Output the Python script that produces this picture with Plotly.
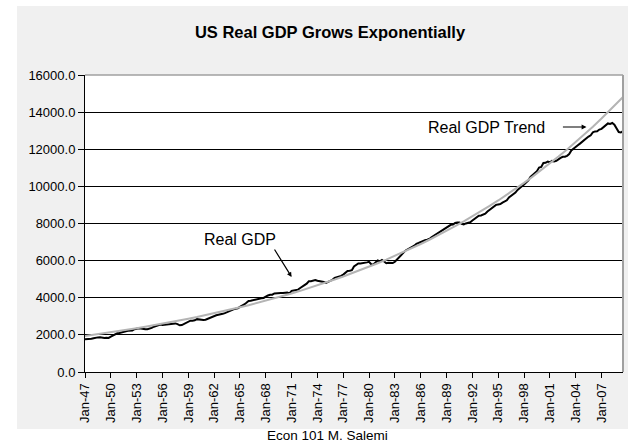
import plotly.graph_objects as go

# ---- Data (billions of chained dollars, quarterly, 1947Q1 - 2009Q3) ----
start_year = 1947
gdp = [
    1770.7, 1768.0, 1766.5, 1793.3,
    1821.8, 1855.3, 1865.3, 1868.2,
    1842.2, 1833.4, 1850.3, 1834.6,
    1905.2, 1964.5, 2040.2, 2083.0,
    2105.3, 2144.1, 2190.4, 2197.6,
    2217.9, 2220.6, 2236.5, 2304.2,
    2338.0, 2360.1, 2343.4, 2312.9,
    2304.6, 2306.6, 2332.3, 2374.1,
    2440.9, 2489.5, 2534.5, 2561.2,
    2537.4, 2552.1, 2546.6, 2578.0,
    2601.9, 2595.4, 2617.1, 2576.6,
    2514.9, 2526.6, 2594.2, 2654.9,
    2702.3, 2765.6, 2765.8, 2781.7,
    2846.9, 2828.5, 2837.6, 2796.2,
    2816.3, 2866.5, 2914.8, 2977.7,
    3025.9, 3055.5, 3081.3, 3097.0,
    3133.5, 3172.4, 3233.1, 3263.6,
    3327.3, 3373.2, 3411.2, 3426.1,
    3511.1, 3564.0, 3639.9, 3727.2,
    3821.0, 3834.4, 3869.3, 3899.1,
    3920.3, 3931.6, 3967.9, 3990.3,
    4064.2, 4125.7, 4159.1, 4166.2,
    4234.9, 4249.1, 4285.3, 4260.6,
    4252.3, 4256.6, 4283.4, 4238.3,
    4373.3, 4395.6, 4424.8, 4438.1,
    4525.0, 4624.5, 4679.9, 4761.1,
    4886.4, 4888.4, 4915.8, 4958.2,
    4917.9, 4906.0, 4868.6, 4850.1,
    4801.0, 4844.4, 4923.8, 4968.2,
    5073.3, 5102.9, 5135.0, 5177.9,
    5248.4, 5347.1, 5446.1, 5453.7,
    5484.7, 5689.6, 5755.1, 5844.1,
    5850.6, 5856.4, 5880.8, 5905.3,
    5933.3, 5806.2, 5791.1, 5875.6,
    6009.8, 5961.2, 6030.9, 5956.0,
    5862.4, 5887.8, 5864.9, 5868.3,
    5939.5, 6075.0, 6178.5, 6308.8,
    6428.7, 6549.4, 6626.2, 6680.3,
    6743.3, 6803.6, 6903.1, 6948.5,
    7012.9, 7036.6, 7096.3, 7123.0,
    7168.3, 7262.2, 7333.7, 7445.4,
    7496.0, 7593.3, 7637.2, 7741.1,
    7813.0, 7872.1, 7928.6, 7939.6,
    8027.7, 8059.6, 8059.5, 7988.9,
    7950.2, 8003.8, 8037.5, 8069.0,
    8157.6, 8244.3, 8329.4, 8417.0,
    8432.5, 8486.4, 8531.1, 8643.8,
    8727.9, 8847.3, 8904.2, 9003.2,
    9025.3, 9044.7, 9120.7, 9184.3,
    9247.2, 9407.1, 9488.9, 9592.5,
    9666.2, 9809.6, 9932.7, 10008.9,
    10103.4, 10194.3, 10328.8, 10507.6,
    10601.2, 10684.0, 10819.9, 11014.3,
    11043.0, 11258.5, 11267.9, 11334.5,
    11297.2, 11371.3, 11340.1, 11380.1,
    11477.9, 11538.8, 11596.4, 11598.8,
    11645.8, 11738.7, 11935.5, 12042.8,
    12127.6, 12213.8, 12303.5, 12410.3,
    12534.1, 12587.5, 12683.2, 12748.7,
    12915.9, 12962.5, 12965.9, 13060.7,
    13099.9, 13204.0, 13321.1, 13391.2,
    13366.9, 13415.3, 13324.6, 13141.9,
    12925.4, 12901.5, 12973.0,
]

# Exponential trend, read at each January (plus the last quarter)
trend_dates = [f"{y}-01-01" for y in range(1947, 2010)] + ["2009-07-01"]
trend = [
    1940, 2004, 2070, 2139, 2209, 2282, 2358, 2436, 2516, 2599,
    2685, 2774, 2866, 2960, 3058, 3159, 3264, 3372, 3483, 3598,
    3717, 3840, 3967, 4098, 4233, 4373, 4518, 4667, 4822, 4981,
    5146, 5316, 5492, 5673, 5861, 6055, 6255, 6462, 6675, 6896,
    7124, 7359, 7603, 7854, 8114, 8382, 8659, 8946, 9241, 9547,
    9863, 10189, 10526, 10874, 11233, 11605, 11988, 12385, 12794, 13217,
    13654, 14106, 14572, 14811,
]

tick_years = list(range(1947, 2008, 3))
tick_labels = [f"Jan-{y % 100:02d}" for y in tick_years]
tick_vals = [f"{y}-01-01" for y in tick_years]

gdp_dates = [f"{start_year + i // 4}-{(i % 4) * 3 + 1:02d}-01" for i in range(len(gdp))]

FONT = "Liberation Sans, Arial, sans-serif"
CHART_BG = "#f0f0f0"

fig = go.Figure()
fig.add_trace(go.Scatter(x=gdp_dates, y=gdp, mode="lines", name="Real GDP",
                         line=dict(color="#000000", width=2)))
fig.add_trace(go.Scatter(x=trend_dates, y=trend, mode="lines", name="Trend",
                         line=dict(color="#b4b4b4", width=2)))

# Layout geometry (pixels)
W, H = 628, 443
L, R, T, B = 85, 5, 75, 71
pw, ph = W - L - R, H - T - B


def px_x(px):
    return (px - L) / pw


def px_y(py):
    return (H - B - py) / ph


NOLINE = dict(width=0)
shapes = [
    # white strips outside the light-grey chart area
    dict(type="rect", xref="paper", yref="paper", layer="above",
         x0=px_x(-5), x1=px_x(17), y0=px_y(450), y1=px_y(-5),
         fillcolor="#ffffff", line=NOLINE),
    dict(type="rect", xref="paper", yref="paper", layer="above",
         x0=px_x(-5), x1=px_x(635), y0=px_y(6), y1=px_y(-5),
         fillcolor="#ffffff", line=NOLINE),
    dict(type="rect", xref="paper", yref="paper", layer="above",
         x0=px_x(-5), x1=px_x(635), y0=px_y(450), y1=px_y(429),
         fillcolor="#ffffff", line=NOLINE),
    # plot-area border (top and right in grey)
    dict(type="line", xref="paper", yref="paper", layer="above",
         x0=0, x1=1, y0=1, y1=1, line=dict(color="#a0a0a0", width=1.5)),
    dict(type="line", xref="paper", yref="paper", layer="above",
         x0=1, x1=1, y0=0, y1=1, line=dict(color="#a0a0a0", width=2)),
]

annotations = [
    dict(text="Real GDP Trend", x="2000-08-15", y=13150, xref="x", yref="y",
         xanchor="right", yanchor="middle", showarrow=False,
         font=dict(family=FONT, size=16, color="#000")),
    dict(text="", x="2005-04-01", y=13200, xref="x", yref="y",
         showarrow=True, ax=-25, ay=0, arrowhead=2, arrowsize=0.8,
         arrowwidth=1.2, arrowcolor="#000"),
    dict(text="Real GDP", x="1960-07-31", y=7112, xref="x", yref="y",
         xanchor="left", yanchor="middle", showarrow=False,
         font=dict(family=FONT, size=16, color="#000")),
    dict(text="", x="1971-01-01", y=5118, xref="x", yref="y",
         showarrow=True, ax=-18, ay=-29, arrowhead=2, arrowsize=0.8,
         arrowwidth=1.2, arrowcolor="#000"),
    dict(text="Econ 101 M. Salemi", x=px_x(327), y=px_y(435), xref="paper",
         yref="paper", xanchor="center", yanchor="middle", showarrow=False,
         font=dict(family=FONT, size=13.5, color="#000")),
]

fig.update_layout(
    width=W, height=H,
    margin=dict(l=L, r=R, t=T, b=B, pad=0),
    paper_bgcolor=CHART_BG, plot_bgcolor="#ffffff",
    showlegend=False,
    font=dict(family=FONT, size=13, color="#000"),
    title=dict(text="<b>US Real GDP Grows Exponentially</b>",
               x=px_x(330), xref="paper", xanchor="center",
               y=1 - 32 / H, yref="container", yanchor="middle",
               font=dict(family=FONT, size=16.5, color="#000")),
    xaxis=dict(type="date", range=["1947-01-01", "2009-07-01"],
               tickvals=tick_vals, ticktext=tick_labels, tickangle=-90,
               ticks="outside", ticklen=5, tickcolor="#000", showgrid=False,
               showline=True, linecolor="#000", linewidth=1,
               tickfont=dict(family=FONT, size=13, color="#000"), zeroline=False),
    yaxis=dict(range=[0, 16000], dtick=2000, tick0=0, tickformat=".1f",
               ticks="outside", ticklen=6, tickcolor="#000",
               showgrid=True, gridcolor="#000", gridwidth=1,
               showline=True, linecolor="#000", linewidth=1, zeroline=False,
               tickfont=dict(family=FONT, size=13, color="#000")),
    shapes=shapes,
    annotations=annotations,
)

fig.write_html("out.html")
